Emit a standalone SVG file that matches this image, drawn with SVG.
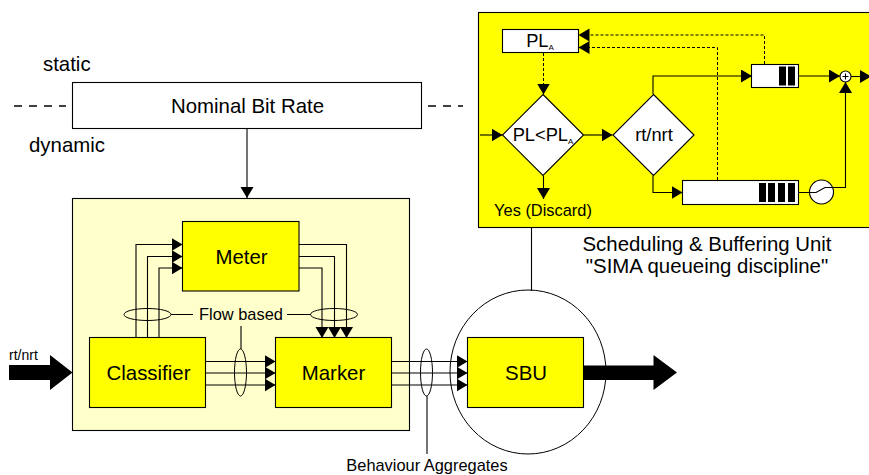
<svg xmlns="http://www.w3.org/2000/svg" width="869" height="475" viewBox="0 0 869 475">
<style>
text{font-family:"Liberation Sans",Arial,sans-serif;fill:#000}
.t20{font-size:20.4px}.t18{font-size:18.3px}.t16{font-size:16.4px}.t14{font-size:14px}
.m{text-anchor:middle}
.sub{font-size:8px}
.box{stroke:#000;stroke-width:1.1}
.y{fill:#ff0}.w{fill:#fff}
.l{fill:none;stroke:#000;stroke-width:1.1}
.la{fill:none;stroke:#000;stroke-width:1.1;marker-end:url(#a)}
.d{fill:none;stroke:#000;stroke-width:1;stroke-dasharray:3 2}
.da{fill:none;stroke:#000;stroke-width:1;stroke-dasharray:3 2;marker-end:url(#a)}
.dash{fill:none;stroke:#000;stroke-width:1.3;stroke-dasharray:8 7}
.e{fill:none;stroke:#000;stroke-width:1}
</style>
<defs>
<marker id="a" markerUnits="userSpaceOnUse" markerWidth="12" markerHeight="14" refX="11" refY="6.500" orient="auto"><path d="M0,0L11,6.500L0,13z" fill="#000"/></marker>
</defs>
<rect width="869" height="475" fill="#fff"/>

<g id="panel-classifier"><rect class="box" x="72.500" y="198.500" width="337" height="232" fill="#ffc"/></g>
<g id="panel-sbu-detail"><rect class="box y" x="478.500" y="12.500" width="392" height="215"/></g>

<g id="connectors">
<path class="la" d="M247 128.500V198"/>
<path class="dash" d="M14 106H66"/>
<path class="dash" d="M428 106H463"/>
<path class="la" d="M136 338V244.500H182.500"/>
<path class="la" d="M147.500 338V256.500H182.500"/>
<path class="la" d="M159 338V268H182.500"/>
<path class="la" d="M299 244.500H346.500V338"/>
<path class="la" d="M299 256.500H334.500V338"/>
<path class="la" d="M299 268H322V338"/>
<path class="la" d="M205 361.500H275.500"/>
<path class="la" d="M205 373H275.500"/>
<path class="la" d="M205 385H275.500"/>
<path class="la" d="M392 361.500H467.500"/>
<path class="la" d="M392 373H467.500"/>
<path class="la" d="M392 385H467.500"/>
<ellipse class="e" cx="147.500" cy="314.500" rx="23.500" ry="6"/>
<ellipse class="e" cx="334" cy="314.500" rx="23.500" ry="6"/>
<ellipse class="e" cx="240.500" cy="372.500" rx="6" ry="23.500"/>
<ellipse class="e" cx="426.500" cy="372.500" rx="6" ry="23.500"/>
<path class="l" d="M171 314.500H193M287 314.500H311M241 326V349"/>
<path class="l" d="M427 396V454"/>
<path class="l" d="M531.500 228V291"/>
<path d="M9 365H50V355L72.500 372.500L50 390V380H9z" fill="#000"/>
<path d="M584 365.500H653.500V355L677 372.500L653.500 390V380H584z" fill="#000"/>
<path class="la" d="M480 135H502.500"/>
<path class="la" d="M583.500 135H612.500"/>
<path class="la" d="M543.500 175.500V199"/>
<path class="da" d="M543.500 53V94.500"/>
<path class="da" d="M764.500 64V35H578.500"/>
<path class="da" d="M717.500 180V47.500H578.500"/>
<path class="la" d="M653 94V76H752"/>
<path class="la" d="M653 175.500V192.500H682.500"/>
<path class="la" d="M798 76H840"/>
<path class="la" d="M851 76.500H871"/>
<path class="la" d="M798 192.500H809M833 187.500H845.500V82"/>
</g>

<g id="nominal-bit-rate"><rect class="box w" x="72.500" y="82.500" width="349" height="46"/><text class="t20 m" x="247.500" y="113">Nominal Bit Rate</text></g>
<g id="meter"><rect class="box y" x="182.500" y="221.500" width="116.500" height="69.500"/><text class="t20 m" x="241.500" y="264">Meter</text></g>
<g id="classifier"><rect class="box y" x="89.500" y="337.500" width="116" height="70"/><text class="t20 m" x="148.500" y="380">Classifier</text></g>
<g id="marker"><rect class="box y" x="275.500" y="337.500" width="116" height="70"/><text class="t20 m" x="333.500" y="380">Marker</text></g>
<g id="sbu"><rect class="box y" x="467.500" y="337.500" width="116" height="70"/><text class="t20 m" x="526" y="380">SBU</text></g>
<g id="sbu-circle"><ellipse class="e" cx="528" cy="372" rx="78" ry="82"/></g>

<g id="pla"><rect class="box w" x="502.500" y="29.500" width="76" height="23"/><text class="t18 m" x="540" y="47">PL<tspan class="sub" dy="3">A</tspan></text></g>
<g id="decision-pl"><path class="box w" d="M543 94.500L583.500 135L543 175.500L502.500 135z"/><text class="t18 m" x="543" y="141">PL&lt;PL<tspan class="sub" dy="3">A</tspan></text></g>
<g id="decision-rt"><path class="box w" d="M653.500 94.500L694 135L653.500 175.500L613 135z"/><text class="t18 m" x="654" y="141">rt/nrt</text></g>
<g id="queue-rt"><rect class="box w" x="751.500" y="64.500" width="47" height="23"/><rect x="779" y="66.500" width="7" height="19"/><rect x="788" y="66.500" width="7" height="19"/></g>
<g id="queue-nrt"><rect class="box w" x="682.500" y="180.500" width="116" height="24"/><rect x="759" y="183" width="7" height="19"/><rect x="768" y="183" width="7" height="19"/><rect x="778" y="183" width="7" height="19"/><rect x="788" y="183" width="7" height="19"/></g>
<g id="switch"><circle class="box w" cx="821.500" cy="192" r="12"/><path class="l" d="M809.500 192.500H816L825 187.500H833"/></g>
<g id="adder"><circle class="box w" cx="845.500" cy="76.500" r="5.500"/><path class="l" d="M842.500 76.500H848.500M845.500 73.500V79.500"/></g>

<g id="labels">
<text class="t20" x="43" y="71">static</text>
<text class="t20" x="29" y="152">dynamic</text>
<text class="t14" x="9" y="360">rt/nrt</text>
<text class="t16 m" x="241" y="320">Flow based</text>
<text class="t16 m" x="427" y="471">Behaviour Aggregates</text>
<text class="t16 m" x="543" y="216">Yes (Discard)</text>
<text class="t20 m" x="707" y="251">Scheduling &amp; Buffering Unit</text>
<text class="t20 m" x="707" y="273">"SIMA queueing discipline"</text>
</g>
</svg>
